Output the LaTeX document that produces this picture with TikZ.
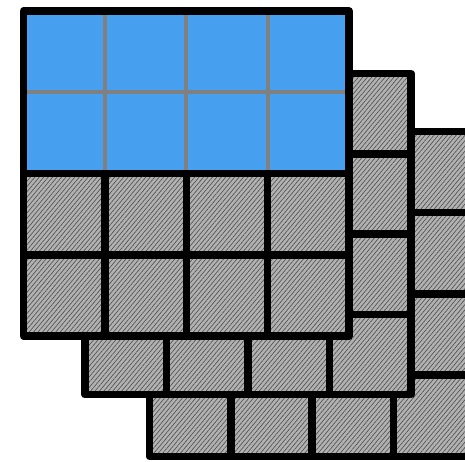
\documentclass[tikz,border=0pt]{standalone}
\usetikzlibrary{patterns.meta}
\definecolor{cellblue}{HTML}{46A0EF}
\definecolor{hatchbg}{HTML}{B2B2B2}
\definecolor{hatchfg}{HTML}{555555}
\definecolor{gridgray}{HTML}{808080}
\tikzset{
  hatch/.style={fill=hatchbg, postaction={pattern={Lines[angle=50,distance=3.4pt,line width=0.7pt]}, pattern color=hatchfg}},
  blackline/.style={line width=7.5pt, line join=round, draw=black},
  grayline/.style={line width=4pt, draw=gridgray},
}
\newcommand\gridlayer[4]{%
  \fill[hatch] (#1,#2) rectangle ++(4*#3,4*#4);
  \foreach \i in {1,2,3} {
    \draw[blackline] (#1+\i*#3,#2) -- ++(0,4*#4);
    \draw[blackline] (#1,#2+\i*#4) -- ++(4*#3,0);
  }
  \draw[blackline] (#1,#2) rectangle ++(4*#3,4*#4);
}
\begin{document}
\begin{tikzpicture}[x=1pt,y=-1pt]
\useasboundingbox (0,0) rectangle (465,462);
\clip (0,0) rectangle (465,462);
% back layer
\gridlayer{149.5}{131.5}{81.3}{81.2}
% middle layer
\gridlayer{85}{73.5}{81.5}{80.3}
% front layer
\fill[cellblue] (23.5,11) rectangle ++(325.6,162.6);
\fill[hatch] (23.5,173.6) rectangle ++(325.6,162.6);
\foreach \i in {1,2,3} {
  \draw[grayline] (23.5+\i*81.4,11) -- ++(0,162.6);
  \draw[blackline] (23.5+\i*81.4,173.6) -- ++(0,162.6);
}
\draw[grayline] (23.5,92.3) -- ++(325.6,0);
\draw[blackline] (23.5,173.6) -- ++(325.6,0);
\draw[blackline] (23.5,254.9) -- ++(325.6,0);
\draw[blackline] (23.5,11) rectangle ++(325.6,325.2);
\end{tikzpicture}
\end{document}
